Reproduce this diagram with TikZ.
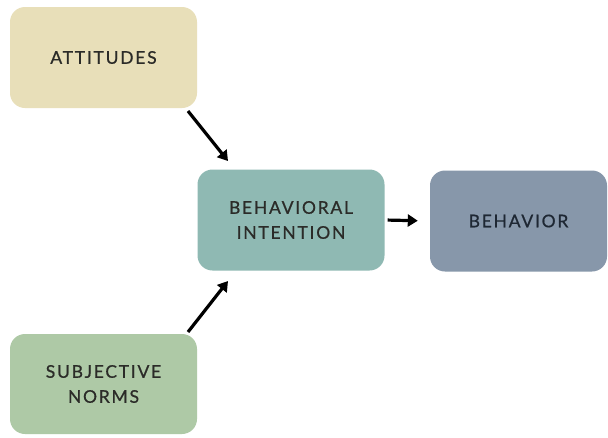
\documentclass[tikz,border=0pt]{standalone}
\usepackage{fontspec}
\setmainfont[LetterSpace=10, FakeBold=0.7]{Lato}
\usetikzlibrary{arrows.meta}
\definecolor{attc}{HTML}{E8DFB9}
\definecolor{bic}{HTML}{8FB9B3}
\definecolor{behc}{HTML}{8797AA}
\definecolor{snc}{HTML}{AEC9A6}
\definecolor{txtc}{HTML}{2B2B28}
\definecolor{txtb}{HTML}{1E2733}
\tikzset{
  box/.style={rounded corners=15pt, minimum width=187pt, minimum height=101pt,
    inner sep=0pt, align=center, font=\fontsize{17.5}{25}\selectfont, text=txtc},
  conn/.style={line width=3.2pt, -{Triangle[length=10pt,width=12pt]}}
}
\begin{document}
\begin{tikzpicture}[x=1pt,y=-1pt]
\useasboundingbox (0,0) rectangle (608,437);
\fill[white] (0,0) rectangle (608,437);
\node[box, fill=attc] (att) at (103.5,57.5) {ATTITUDES};
\node[box, fill=bic] (bi) at (291,220) {BEHAVIORAL\\INTENTION};
\node[box, fill=behc, minimum width=177pt, text=txtb] (beh) at (518.5,221) {BEHAVIOR};
\node[box, fill=snc, minimum height=100pt] (sn) at (103.5,384) {SUBJECTIVE\\NORMS};
\coordinate (a1s) at (188,111);
\coordinate (a1e) at (228,161);
\coordinate (a2s) at (188,332);
\coordinate (a2e) at (228,281);
\draw[conn] (a1s) -- (a1e);
\draw[conn] (a2s) -- (a2e);
\draw[conn, shorten <=3pt, shorten >=12pt] (bi.east) -- (beh.west);
\end{tikzpicture}
\end{document}
